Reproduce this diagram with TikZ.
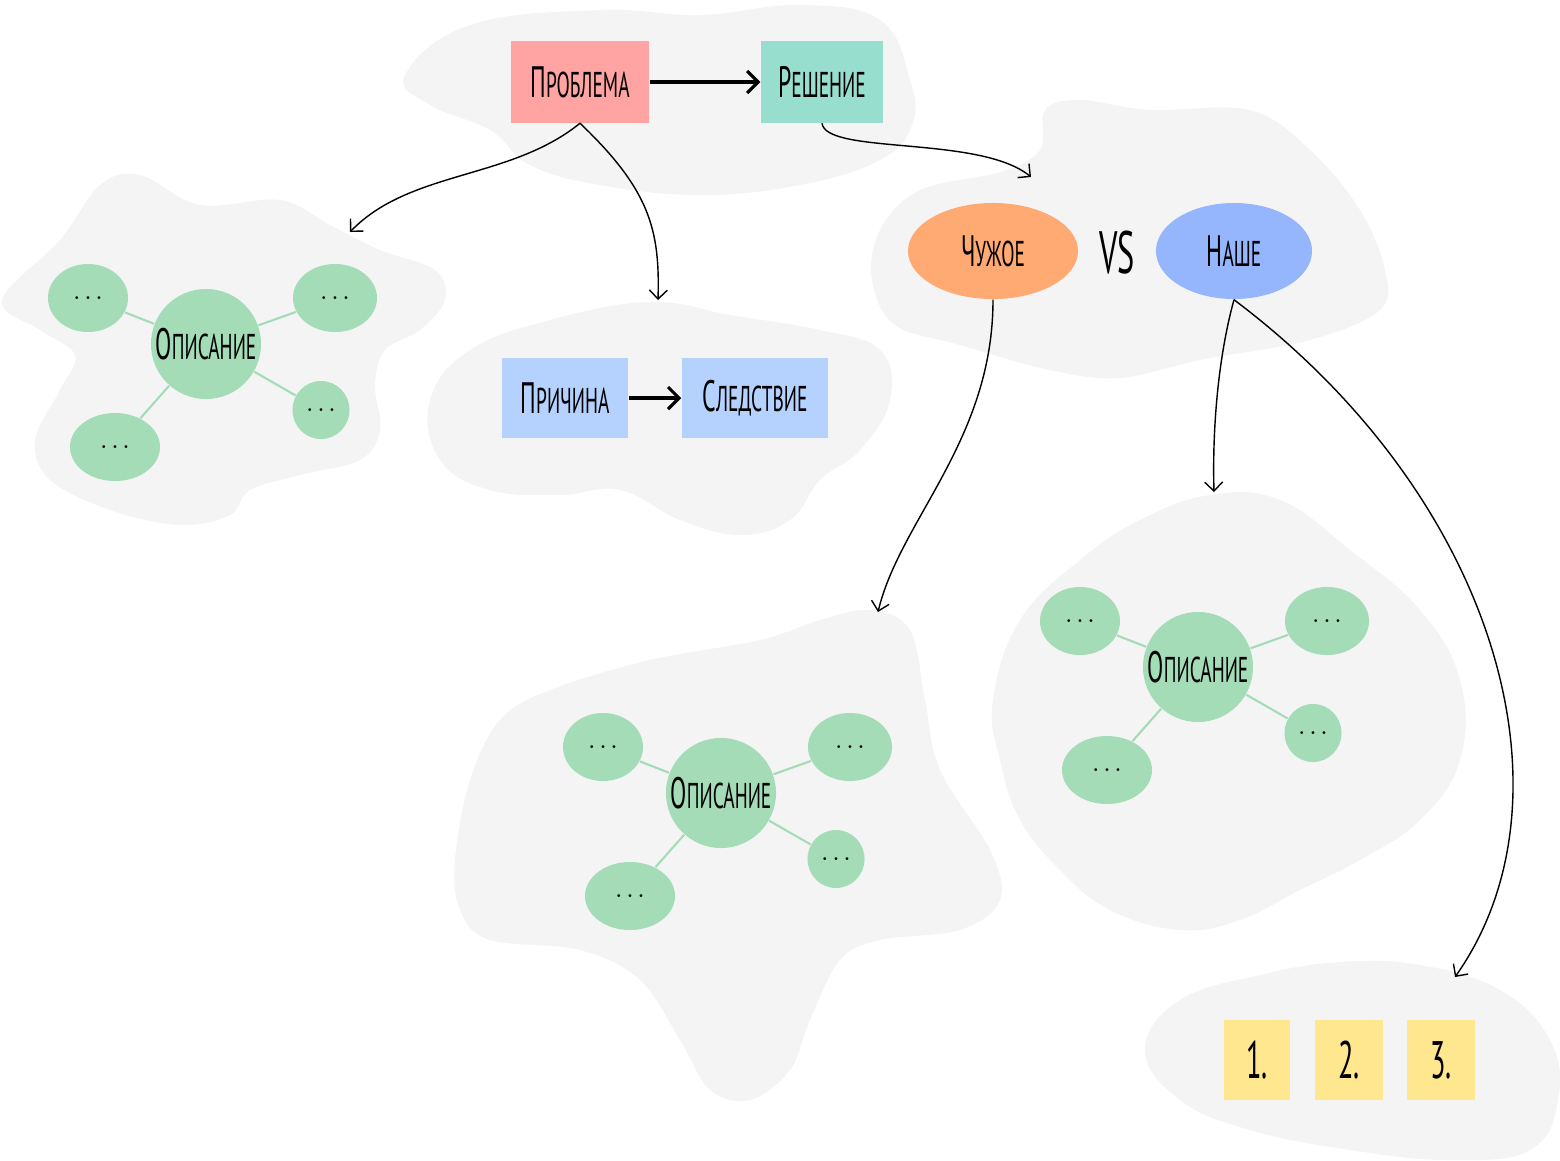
\documentclass[tikz,border=0pt]{standalone}
\usepackage{fontspec}
\newfontfamily\hand[FakeStretch=0.54]{PT Sans}
\usepackage{tikz}
\usetikzlibrary{arrows.meta,
  calc,
  shapes.geometric,
  positioning
}
\definecolor{blobgrey}{HTML}{F4F4F4}
\definecolor{probred}{HTML}{FFA3A3}
\definecolor{solgreen}{HTML}{98DECE}
\definecolor{causeblue}{HTML}{B4D2FD}
\definecolor{alienorange}{HTML}{FFAA73}
\definecolor{ourblue}{HTML}{95B5FC}
\definecolor{mapgreen}{HTML}{A4DCB8}
\definecolor{noteyellow}{HTML}{FEE78E}

\newcommand{\sccap}[2]{#1{\fontsize{10.2}{12}\selectfont #2}}
\newcommand{\leafdots}{.\kern0.9pt.\kern0.9pt.}

\tikzstyle{blob} = [fill=blobgrey]
\tikzstyle{card} = [rectangle, inner sep=0, font=\hand\fontsize{12.5}{14}\selectfont]
\tikzstyle{bubble} = [ellipse, inner sep=0, font=\hand\fontsize{12.5}{14}\selectfont]
\tikzstyle{mapmain} = [circle, fill=mapgreen, inner sep=0, minimum size=1.1cm,
  font=\hand\fontsize{12.5}{14}\selectfont]
\tikzstyle{mapleaf} = [ellipse, fill=mapgreen, inner sep=0, font=\fontsize{7}{8}\selectfont]
\tikzstyle{mapline} = [mapgreen, line width=0.6pt]
\tikzstyle{boldarrow} = [line width=0.9pt, -{Straight Barb[length=1.1mm, width=2.2mm]}]
\tikzstyle{thinarrow} = [line width=0.4pt, -{Straight Barb[length=0.9mm, width=1.8mm]}]

% description map: #1 name, #2 x, #3 y
\newcommand{\descmap}[3]{%
  \node[mapmain] (#1) at (#2, #3) {\sccap{О}{ПИСАНИЕ}};
  \node[mapleaf, minimum width=0.8cm, minimum height=0.68cm] (#1tl) at ($(#1) + (-118, -46)$) {\leafdots};
  \node[mapleaf, minimum width=0.84cm, minimum height=0.68cm] (#1tr) at ($(#1) + (129, -46)$) {\leafdots};
  \node[mapleaf, minimum width=0.57cm, minimum height=0.58cm] (#1br) at ($(#1) + (115, 66)$) {\leafdots};
  \node[mapleaf, minimum width=0.9cm, minimum height=0.68cm] (#1bl) at ($(#1) + (-91, 103)$) {\leafdots};
  \foreach \leaf in {tl, tr, br, bl} {
    \draw[mapline] (#1) -- (#1\leaf);
  }
}

\begin{document}
\begin{tikzpicture}[x=0.01cm, y=-0.01cm]
  \useasboundingbox (0, 0) rectangle (1560, 1160);

  % background blobs
  \fill[blob] plot[smooth cycle, tension=0.7] coordinates {
    (405, 75) (470, 25) (600, 10) (700, 15) (800, 5) (880, 20) (910, 80)
    (912, 125) (880, 160) (800, 185) (700, 195) (600, 185) (530, 165)
    (490, 130) (430, 105)};
  \fill[blob] plot[smooth cycle, tension=0.6] coordinates {
    (2, 300) (60, 240) (100, 185) (140, 175) (200, 205) (280, 200) (330, 225)
    (380, 250) (435, 270) (445, 300) (420, 330) (385, 350) (375, 385)
    (380, 430) (360, 460) (300, 475) (250, 490) (230, 515) (180, 525)
    (110, 510) (50, 480) (35, 440) (60, 390) (75, 355) (40, 330)};
  \fill[blob] plot[smooth cycle, tension=0.7] coordinates {
    (430, 400) (470, 350) (550, 320) (650, 302) (730, 315) (820, 330)
    (880, 350) (890, 400) (860, 450) (820, 480) (790, 520) (740, 535)
    (680, 520) (620, 490) (560, 495) (490, 490) (440, 460)};
  \fill[blob] plot[smooth cycle, tension=0.6] coordinates {
    (872, 280) (880, 230) (920, 190) (1000, 172) (1040, 150) (1045, 110)
    (1080, 100) (1150, 110) (1250, 110) (1310, 150) (1360, 210) (1385, 270)
    (1380, 310) (1310, 340) (1200, 360) (1120, 378) (1050, 370) (960, 345)
    (895, 325)};
  \fill[blob] plot[smooth cycle, tension=0.6] coordinates {
    (455, 860) (470, 780) (500, 720) (550, 690) (650, 660) (760, 640)
    (820, 620) (870, 610) (910, 630) (925, 700) (940, 770) (990, 850)
    (1000, 900) (960, 930) (880, 940) (840, 960) (810, 1020) (790, 1070)
    (750, 1100) (710, 1090) (680, 1040) (640, 980) (580, 950) (490, 940)
    (460, 910)};
  \fill[blob] plot[smooth cycle, tension=0.7] coordinates {
    (993, 700) (1020, 620) (1080, 560) (1140, 520) (1210, 495) (1280, 500)
    (1350, 550) (1420, 610) (1460, 680) (1460, 760) (1420, 820) (1360, 860)
    (1300, 890) (1240, 920) (1180, 930) (1110, 910) (1060, 870) (1020, 820)
    (1000, 760)};
  \fill[blob] plot[smooth cycle, tension=0.7] coordinates {
    (1145, 1050) (1180, 1000) (1260, 975) (1340, 962) (1420, 965)
    (1500, 990) (1550, 1040) (1558, 1100) (1530, 1150) (1450, 1160)
    (1350, 1150) (1250, 1130) (1180, 1100)};

  % problem -> solution
  \node[card, fill=probred, minimum width=1.38cm, minimum height=0.81cm] (prob)
    at (580, 82) {\sccap{П}{РОБЛЕМА}};
  \node[card, fill=solgreen, minimum width=1.22cm, minimum height=0.81cm] (sol)
    at (822, 82) {\sccap{Р}{ЕШЕНИЕ}};
  \draw[boldarrow] (prob) -- (sol);

  % cause -> effect
  \node[card, fill=causeblue, minimum width=1.26cm, minimum height=0.8cm] (cause)
    at (565, 398) {\sccap{П}{РИЧИНА}};
  \node[card, fill=causeblue, minimum width=1.46cm, minimum height=0.8cm] (effect)
    at (755, 398) {\sccap{С}{ЛЕДСТВИЕ}};
  \draw[boldarrow] (cause) -- (effect);

  % theirs vs ours
  \node[bubble, fill=alienorange, minimum width=1.7cm, minimum height=0.96cm] (alien)
    at (993, 251) {\sccap{Ч}{УЖОЕ}};
  \node[bubble, fill=ourblue, minimum width=1.56cm, minimum height=0.96cm] (ours)
    at (1234, 251) {\sccap{Н}{АШЕ}};
  \node[font=\hand\fontsize{17}{19}\selectfont] (vs) at (1117, 253) {VS};

  % description maps
  \descmap{leftmap}{206}{344}
  \descmap{alienmap}{721}{793}
  \descmap{ourmap}{1198}{667}

  % numbered notes
  \node[card, fill=noteyellow, minimum width=0.65cm, minimum height=0.8cm,
    font=\hand\fontsize{15}{17}\selectfont] (noteone) at (1257, 1060) {1.};
  \node[card, fill=noteyellow, minimum width=0.68cm, minimum height=0.8cm,
    font=\hand\fontsize{15}{17}\selectfont] (notetwo) at (1349, 1060) {2.};
  \node[card, fill=noteyellow, minimum width=0.67cm, minimum height=0.8cm,
    font=\hand\fontsize{15}{17}\selectfont] (notethree) at (1441, 1060) {3.};

  % connectors
  \coordinate (leftin) at (350, 232);
  \coordinate (causein) at (658, 300);
  \coordinate (vsin) at (1031, 177);
  \coordinate (alienin) at (878, 612);
  \coordinate (ourin) at (1214, 492);
  \coordinate (notesin) at (1455, 977);
  \draw[thinarrow] (prob.south) .. controls (510, 180) and (410, 170) .. (leftin);
  \draw[thinarrow] (prob.south) .. controls (650, 190) and (660, 230) .. (causein);
  \draw[thinarrow] (sol.south) .. controls (826, 155) and (980, 135) .. (vsin);
  \draw[thinarrow] (alien.south) .. controls (993, 440) and (900, 520) .. (alienin);
  \draw[thinarrow] (ours.south) .. controls (1220, 350) and (1212, 420) .. (ourin);
  \draw[thinarrow] (ours.south) .. controls (1500, 500) and (1580, 800) .. (notesin);
\end{tikzpicture}
\end{document}
